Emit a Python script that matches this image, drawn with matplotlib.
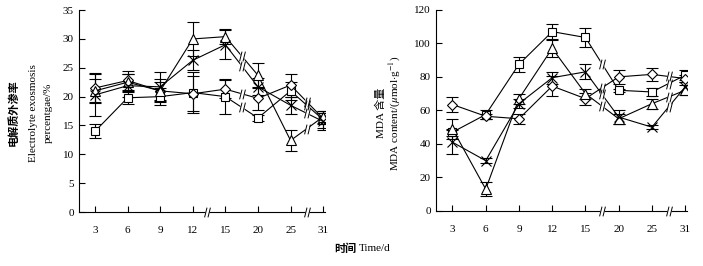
import matplotlib.pyplot as plt
import numpy as np
from matplotlib.path import Path

plt.rcParams['font.family'] = ['Liberation Serif', 'Noto Sans CJK SC']
plt.rcParams['mathtext.fontset'] = 'stix'

days = ['3', '6', '9', '12', '15', '20', '25', '31']

# electrolyte exosmosis percentage (%)
el_square = [14.0, 19.8, 20.0, 20.7, 20.0, 16.3, 21.0, 16.0]
el_square_err = [1.2, 1.0, 1.5, 3.5, 3.0, 0.5, 1.5, 1.5]
el_diamond = [21.5, 22.8, 21.0, 20.5, 21.3, 19.7, 22.0, 16.2]
el_diamond_err = [2.6, 1.7, 1.5, 3.0, 1.5, 2.0, 2.0, 1.0]
el_triangle = [21.0, 22.5, 21.0, 30.0, 30.4, 23.7, 12.4, 16.5]
el_triangle_err = [2.0, 1.5, 2.0, 3.0, 1.3, 2.2, 1.8, 1.0]
el_x = [20.3, 21.9, 21.7, 26.3, 29.0, 21.7, 18.5, 15.7]
el_x_err = [3.7, 2.0, 2.5, 1.7, 2.5, 1.5, 1.5, 1.5]

# MDA content (umol/g)
mda_square = [47.0, 57.5, 87.5, 107.0, 103.5, 72.0, 71.0, 81.0]
mda_square_err = [2.0, 2.5, 4.5, 4.5, 5.5, 1.0, 2.5, 3.0]
mda_diamond = [63.5, 56.5, 55.0, 74.5, 67.0, 80.0, 81.5, 79.0]
mda_diamond_err = [4.5, 1.5, 3.0, 6.0, 3.5, 4.0, 4.0, 2.0]
mda_triangle = [49.0, 13.0, 67.0, 97.0, 70.0, 55.0, 64.0, 72.0]
mda_triangle_err = [6.0, 4.0, 3.0, 5.0, 3.0, 3.0, 3.0, 3.0]
mda_x = [41.0, 30.0, 64.0, 79.5, 83.0, 56.0, 50.0, 74.0]
mda_x_err = [7.0, 1.5, 2.5, 3.5, 4.5, 4.0, 1.0, 3.0]

fig = plt.figure(figsize=(7.03, 2.66), dpi=100)
ax1 = fig.add_axes([0.112, 0.203, 0.350, 0.759])
ax2 = fig.add_axes([0.620, 0.207, 0.357, 0.756])

x = np.arange(len(days))
styles = [('s', 6), ('D', 5), ('^', 7), ('x', 7)]

# "//" break sign as a marker: two parallel slanted strokes
slash = Path([(-0.6, -1), (-0.1, 1), (0.1, -1), (0.6, 1)],
             [Path.MOVETO, Path.LINETO, Path.MOVETO, Path.LINETO])
gap = Path([(-0.35, -1), (0.35, -1), (0.35, 1), (-0.35, 1), (-0.35, -1)],
           [Path.MOVETO, Path.LINETO, Path.LINETO, Path.LINETO,
            Path.CLOSEPOLY])


def put_break(ax, bx, by, clip=True):
    ax.plot(bx, by, ls='none', marker=gap, ms=7, mfc='white', mec='none',
            zorder=4, clip_on=clip)
    ax.plot(bx, by, ls='none', marker=slash, ms=7, mfc='none', mec='black',
            mew=0.7, zorder=5, clip_on=clip)


def draw(ax, series, errs, ylim, yticks, axis_breaks, line_breaks):
    for (m, ms), y, e in zip(styles, series, errs):
        ax.errorbar(x, y, yerr=e, color='black', lw=0.8, elinewidth=0.8,
                    capsize=4, capthick=0.8, marker=m, ms=ms,
                    mfc='white', mec='black', mew=0.8, zorder=3)
        y = np.asarray(y)
        for i in line_breaks:
            put_break(ax, i + 0.5, (y[i] + y[i + 1]) / 2)
    for b in axis_breaks:
        put_break(ax, b, ylim[0], clip=False)
    ax.set_xlim(-0.5, 7.05)
    ax.set_ylim(*ylim)
    ax.set_yticks(yticks)
    ax.set_xticks(x)
    ax.set_xticklabels(days)
    for s in ['top', 'right']:
        ax.spines[s].set_visible(False)
    for s in ['left', 'bottom']:
        ax.spines[s].set_linewidth(0.8)
    ax.tick_params(direction='in', length=4, width=0.8, labelsize=8)
    ax.tick_params(axis='x', pad=10)


draw(ax1, [el_square, el_diamond, el_triangle, el_x],
     [el_square_err, el_diamond_err, el_triangle_err, el_x_err],
     (0, 35), np.arange(0, 36, 5), [3.45, 6.5], [4, 6])
draw(ax2, [mda_square, mda_diamond, mda_triangle, mda_x],
     [mda_square_err, mda_diamond_err, mda_triangle_err, mda_x_err],
     (0, 120), np.arange(0, 121, 20), [4.5, 6.5], [4, 6])

# y labels
fig.text(0.018, 0.575, '电解质外渗率', rotation=90, ha='center', va='center',
         fontsize=8, fontweight='bold', family='Noto Sans CJK SC')
fig.text(0.047, 0.575, 'Electrolyte exosmosis', rotation=90, ha='center',
         va='center', fontsize=8)
fig.text(0.068, 0.575, 'percentgae/%', rotation=90, ha='center',
         va='center', fontsize=8)
fig.text(0.542, 0.575, 'MDA 含量', rotation=90, ha='center', va='center',
         fontsize=8)
fig.text(0.562, 0.575, r'MDA content/($\mu$mol$\cdot$g$^{-1}$)', rotation=90,
         ha='center', va='center', fontsize=8)

# x label
fig.text(0.507, 0.067, '时间', ha='right', va='center', fontsize=8,
         fontweight='bold', family='Noto Sans CJK SC')
fig.text(0.510, 0.067, 'Time/d', ha='left', va='center', fontsize=8)

fig.savefig('out.png', dpi=100)
